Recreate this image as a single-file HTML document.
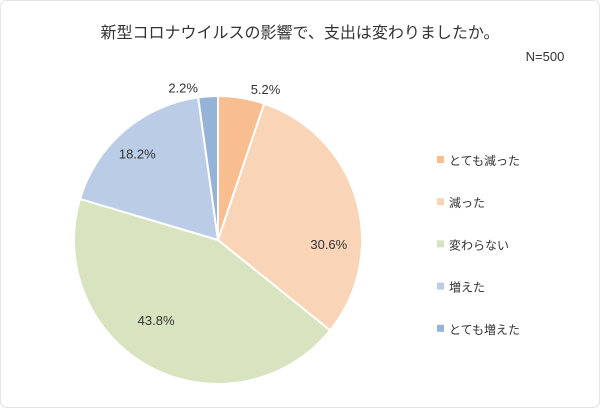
<!DOCTYPE html>
<html><head><meta charset="utf-8"><style>
body{margin:0;background:#fff;}
#c{position:relative;width:600px;height:408px;font-family:"Liberation Sans","Noto Sans CJK JP",sans-serif;color:#404040;overflow:hidden;}
</style></head><body>
<div id="c">
<svg id="s" width="600" height="408">
<rect x="0.5" y="0.5" width="599" height="407" rx="6" fill="#fff" stroke="#e4e4e4"/>
<text x="300" y="38" text-anchor="middle" font-size="16" fill="#333">新型コロナウイルスの影響で、支出は変わりましたか。</text>
<text x="545" y="61" text-anchor="middle" font-size="13" fill="#333">N=500</text>
</svg>
</div>
<script>
const categories=["とても減った","減った","変わらない","増えた","とても増えた"];
const values=[5.2,30.6,43.8,18.2,2.2];
const labels=["5.2%","30.6%","43.8%","18.2%","2.2%"];
const colors=["#F8BE8F","#FAD4B6","#D8E4BF","#BACCE6","#95B3D7"];
// layout-only label nudges (px), not data
const labelNudgeX=[14,14,-15,-15,-14];
const labelNudgeY=[4,32,-9,-10,4];
const svg=document.getElementById('s');
const NS="http://www.w3.org/2000/svg";
const cx=218,cy=240,r=144;
const total=values.reduce((a,b)=>a+b,0);
let a0=0;
function pt(a,rr){return [cx+rr*Math.sin(a),cy-rr*Math.cos(a)];}
values.forEach((v,i)=>{
 const a1=a0+v/total*2*Math.PI;
 const p0=pt(a0,r),p1=pt(a1,r);
 const path=document.createElementNS(NS,'path');
 path.setAttribute('d',`M${cx},${cy}L${p0[0]},${p0[1]}A${r},${r} 0 ${a1-a0>Math.PI?1:0} 1 ${p1[0]},${p1[1]}Z`);
 path.setAttribute('fill',colors[i]);path.setAttribute('stroke','#fff');path.setAttribute('stroke-width','2');
 
 
 svg.appendChild(path);
 const mid=(a0+a1)/2;
 const outside=v<10;
 const lp=pt(mid,outside?r+13:r*0.7);
 const t=document.createElementNS(NS,'text');
 t.setAttribute('x',lp[0]+(outside?(Math.sin(mid)>0?8:-10):0)+labelNudgeX[i]);t.setAttribute('y',lp[1]+5+labelNudgeY[i]);
 t.setAttribute('text-anchor','middle');t.setAttribute('font-size','13');t.setAttribute('fill','#333');
 t.textContent=labels[i];
 
 
 svg.appendChild(t);
 a0=a1;
});
categories.forEach((c,i)=>{
 const y=160+i*42.2;
 const rc=document.createElementNS(NS,'rect');
 rc.setAttribute('x',437);rc.setAttribute('y',y-4);rc.setAttribute('width',7);rc.setAttribute('height',7);rc.setAttribute('fill',colors[i]);
 
 
 svg.appendChild(rc);
 const t=document.createElementNS(NS,'text');
 t.setAttribute('x',449);t.setAttribute('y',y+5);t.setAttribute('font-size','12');t.setAttribute('fill','#333');
 t.textContent=c;
 
 
 svg.appendChild(t);
});
</script>
</body></html>
